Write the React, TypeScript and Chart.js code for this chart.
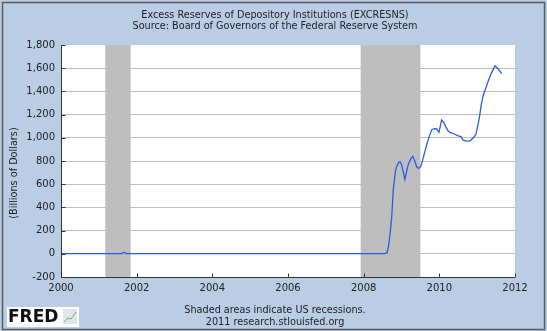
import React, { useEffect, useRef } from "react";
import { Chart, registerables } from "chart.js";

Chart.register(...registerables);

// Decimal-year dates and excess reserves (billions of dollars)
const dates: number[] = [
  2000.0, 2000.5, 2001.0, 2001.6, 2001.665, 2001.72, 2002.5, 2003.5, 2004.5, 2005.5, 2006.5, 2007.5, 2008.0, 2008.55,
  2008.62, 2008.66, 2008.7, 2008.74, 2008.78, 2008.83, 2008.86, 2008.92, 2008.96, 2009.0, 2009.05, 2009.09,
  2009.14, 2009.18, 2009.25, 2009.3, 2009.35, 2009.4, 2009.45, 2009.5, 2009.53, 2009.6, 2009.67, 2009.73,
  2009.8, 2009.87, 2009.93, 2009.99, 2010.06, 2010.12, 2010.18, 2010.23, 2010.28, 2010.38, 2010.5, 2010.57,
  2010.63, 2010.72, 2010.81, 2010.9, 2010.97, 2011.06, 2011.11, 2011.16, 2011.23, 2011.3, 2011.38, 2011.47,
  2011.55, 2011.65,
];
const reserves: number[] = [
  1.3, 1.1, 1.5, 1.3, 13, 1.4, 1.6, 1.7, 1.6, 1.7, 1.7, 1.6, 1.8, 2.0,
  10, 75, 180, 307, 539, 690, 742, 785, 794, 771, 700, 641,
  720, 771, 820, 841, 800, 750, 736, 750, 771, 860, 945, 1010,
  1070, 1078, 1076, 1047, 1154, 1130, 1090, 1060, 1047, 1035, 1017, 1010,
  980, 972, 974, 1000, 1032, 1177, 1290, 1365, 1430, 1496, 1560, 1620,
  1595, 1554,
];

// Recession periods (decimal years)
const recessionStarts: number[] = [2001.17, 2007.92];
const recessionEnds: number[] = [2001.84, 2009.5];

const yTicks: number[] = [-200, 0, 200, 400, 600, 800, 1000, 1200, 1400, 1600, 1800];
const xTicks: number[] = [2000, 2002, 2004, 2006, 2008, 2010, 2012];

const titleLines: string[] = [
  "Excess Reserves of Depository Institutions (EXCRESNS)",
  "Source: Board of Governors of the Federal Reserve System",
];
const footerLines: string[] = ["Shaded areas indicate US recessions.", "2011 research.stlouisfed.org"];
const yAxisTitle = "(Billions of Dollars)";

const FONT = "'DejaVu Sans', Verdana, sans-serif";

export default function App() {
  const ref = useRef<HTMLCanvasElement | null>(null);

  useEffect(() => {
    document.body.style.margin = "0";
    const canvas = ref.current;
    if (!canvas) return;

    const decor = {
      id: "decor",
      beforeDraw(chart: any) {
        const { ctx, chartArea } = chart;
        ctx.save();
        ctx.fillStyle = "#B9CDE4";
        ctx.fillRect(0, 0, chart.width, chart.height);
        ctx.strokeStyle = "#5a5a5a";
        ctx.lineWidth = 1.5;
        ctx.strokeRect(2.5, 2.5, 542, 327);
        ctx.fillStyle = "#ffffff";
        ctx.fillRect(chartArea.left, chartArea.top, chartArea.right - chartArea.left, chartArea.bottom - chartArea.top);
        ctx.restore();
      },
      beforeDatasetsDraw(chart: any) {
        const { ctx, chartArea } = chart;
        const xs = chart.scales.x;
        ctx.save();
        ctx.fillStyle = "#BEBEBE";
        for (let i = 0; i < recessionStarts.length; i++) {
          const a = xs.getPixelForValue(recessionStarts[i]);
          const b = xs.getPixelForValue(recessionEnds[i]);
          ctx.fillRect(a, chartArea.top, b - a, chartArea.bottom - chartArea.top);
        }
        ctx.restore();
      },
      afterDraw(chart: any) {
        const { ctx, chartArea } = chart;
        const xs = chart.scales.x;
        const ys = chart.scales.y;
        ctx.save();
        // axes lines and inward ticks
        ctx.strokeStyle = "#333";
        ctx.lineWidth = 1;
        ctx.beginPath();
        const L = Math.round(chartArea.left) + 0.5;
        const B = Math.round(chartArea.bottom) + 0.5;
        ctx.moveTo(L, Math.round(chartArea.top));
        ctx.lineTo(L, B);
        ctx.lineTo(Math.round(chartArea.right), B);
        for (const v of yTicks) {
          const y = Math.round(ys.getPixelForValue(v)) + 0.5;
          ctx.moveTo(L, y);
          ctx.lineTo(L + 4, y);
        }
        for (const v of xTicks) {
          const x = Math.round(xs.getPixelForValue(v)) + 0.5;
          ctx.moveTo(x, B);
          ctx.lineTo(x, B - 4);
        }
        ctx.stroke();

        // titles
        ctx.fillStyle = "#222";
        ctx.textAlign = "center";
        ctx.textBaseline = "middle";
        ctx.font = `9.7px ${FONT}`;
        ctx.fillText(titleLines[0], 275, 15);
        ctx.fillText(titleLines[1], 275, 26);
        ctx.fillText(footerLines[0], 275, 310);
        ctx.fillText(footerLines[1], 275, 322);

        // y axis title
        ctx.save();
        ctx.translate(14, 173);
        ctx.rotate(-Math.PI / 2);
        ctx.fillText(yAxisTitle, 0, 0);
        ctx.restore();

        // FRED logo
        ctx.fillStyle = "#ffffff";
        ctx.fillRect(7, 307, 72, 20);
        ctx.fillStyle = "#111";
        ctx.textAlign = "left";
        ctx.font = `bold 17px ${FONT}`;
        ctx.fillText("FRED", 8, 318);
        ctx.fillStyle = "#dfe6ee";
        ctx.fillRect(63, 309, 14, 15);
        ctx.strokeStyle = "#7fae5a";
        ctx.lineWidth = 1;
        ctx.beginPath();
        ctx.moveTo(64, 322);
        ctx.lineTo(68, 318);
        ctx.lineTo(71, 319);
        ctx.lineTo(76, 312);
        ctx.stroke();
        ctx.restore();
      },
    };

    const chart = new Chart(canvas, {
      type: "line",
      data: {
        datasets: [
          {
            data: dates.map((d, i) => ({ x: d, y: reserves[i] })),
            borderColor: "#2A5CE8",
            borderWidth: 1.3,
            pointRadius: 0,
            tension: 0,
            fill: false,
          },
        ],
      },
      options: {
        animation: false,
        responsive: false,
        devicePixelRatio: 1,
        layout: { padding: { left: 0, top: 45, right: 32, bottom: 0 } },
        plugins: { legend: { display: false }, tooltip: { enabled: false }, title: { display: false } },
        scales: {
          x: {
            type: "linear",
            min: 2000,
            max: 2012,
            afterBuildTicks: (s: any) => {
              s.ticks = xTicks.map((v) => ({ value: v }));
            },
            afterFit: (s: any) => {
              s.height = 54;
            },
            grid: { display: false, drawTicks: false },
            border: { display: false },
            ticks: {
              padding: 5,
              color: "#222",
              font: { family: FONT, size: 10 },
              maxRotation: 0,
              callback: (v: any) => String(v),
            },
          },
          y: {
            min: -200,
            max: 1800,
            afterBuildTicks: (s: any) => {
              s.ticks = yTicks.map((v) => ({ value: v }));
            },
            afterFit: (s: any) => {
              s.width = 61;
            },
            grid: {
              drawTicks: false,
              color: (c: any) =>
                c.tick && (c.tick.value === 1800 || c.tick.value === -200) ? "rgba(0,0,0,0)" : "#BDBDBD",
              lineWidth: 1,
            },
            border: { display: false },
            ticks: {
              padding: 6,
              color: "#222",
              font: { family: FONT, size: 10 },
              callback: (v: any) => Number(v).toLocaleString("en-US"),
            },
          },
        },
      },
      plugins: [decor],
    } as any);

    return () => chart.destroy();
  }, []);

  return (
    <div style={{ width: 547, height: 331 }}>
      <canvas ref={ref} width={547} height={331} style={{ display: "block" }} />
    </div>
  );
}
